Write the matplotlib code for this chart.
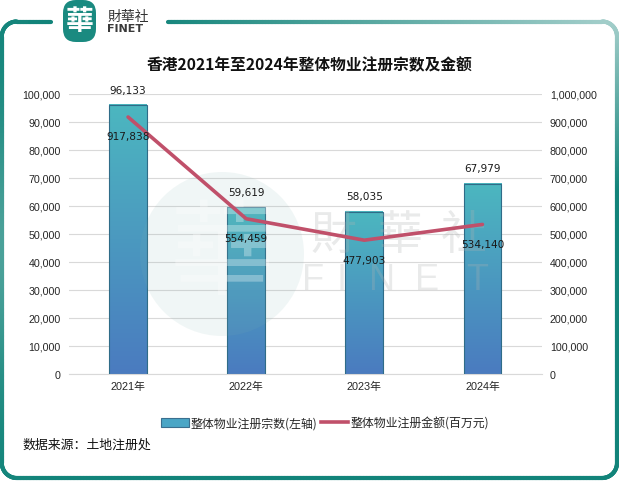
import numpy as np
import matplotlib
matplotlib.use('Agg')
import matplotlib.pyplot as plt
from matplotlib.patches import FancyBboxPatch, Rectangle, Circle
from matplotlib.colors import LinearSegmentedColormap, to_rgb
from matplotlib.collections import LineCollection
from matplotlib.ticker import FuncFormatter, MultipleLocator
from matplotlib.lines import Line2D

# ---------------- data ----------------
years = ['2021年', '2022年', '2023年', '2024年']
counts = [96133, 59619, 58035, 67979]            # 整体物业注册宗数 (left axis)
amounts = [917838, 554459, 477903, 534140]       # 整体物业注册金额 (百万元, right axis)
title = '香港2021年至2024年整体物业注册宗数及金额'
bar_name = '整体物业注册宗数(左轴)'
line_name = '整体物业注册金额(百万元)'
source = '数据来源：土地注册处'

W, H = 619, 502
plt.rcParams['font.family'] = ['Liberation Sans', 'Noto Sans CJK SC']
fig = plt.figure(figsize=(W / 100, H / 100), dpi=100)

# ---------------- background / frame ----------------
bg = fig.add_axes([0, 0, 1, 1], zorder=0)
bg.set_xlim(0, W); bg.set_ylim(H, 0); bg.axis('off')

L, R, T, B, rad = 1.8, 617.0, 22.5, 479.0, 15.0
pts = []
def arc(cx, cy, a0, a1, n=30):
    for a in np.linspace(a0, a1, n):
        pts.append((cx + rad * np.cos(np.radians(a)), cy + rad * np.sin(np.radians(a))))
def seg(p0, p1, n=200):
    for t in np.linspace(0, 1, n):
        pts.append((p0[0] + (p1[0] - p0[0]) * t, p0[1] + (p1[1] - p0[1]) * t))
seg((L + rad, T), (R - rad, T), 400)
arc(R - rad, T + rad, -90, 0)
seg((R, T + rad), (R, B - rad), 300)
arc(R - rad, B - rad, 0, 90)
seg((R - rad, B), (L + rad, B), 400)
arc(L + rad, B - rad, 90, 180)
seg((L, B - rad), (L, T + rad), 300)
arc(L + rad, T + rad, 180, 270)
pts = np.array(pts)
segs, cols = [], []
dark = np.array(to_rgb('#12847a'))
light = np.array(to_rgb('#b3d6d3'))
for i in range(len(pts) - 1):
    p0, p1 = pts[i], pts[i + 1]
    mx, my = (p0 + p1) / 2
    if my < T + 3 and 51 < mx < 168:
        continue
    tr = 0.92 * np.clip((mx - 150) / 467, 0, 1) * np.clip(1 - (my - 22) / 170, 0, 1)
    tl = 0.35 * np.exp(-((my - 250) / 130) ** 2) if mx < 30 else 0
    t = max(tr, tl)
    segs.append([p0, p1]); cols.append(dark * (1 - t) + light * t)
bg.add_collection(LineCollection(segs, colors=cols, linewidths=3.0, capstyle='round'))

# logo
bg.add_patch(FancyBboxPatch((63, 1), 33, 42, boxstyle='round,pad=0,rounding_size=13',
                            facecolor='#1a8a80', edgecolor='none'))
bg.text(79.5, 22, '華', color='white', fontsize=20, fontweight='bold',
        family='Noto Sans CJK TC', ha='center', va='center')
bg.text(107, 17, '財華社', color='#333333', fontsize=10, family='Noto Sans CJK TC',
        ha='left', va='center')
bg.text(107, 29, 'FINET', color='#3a3a3a', fontsize=8, fontweight='bold',
        family='DejaVu Sans', ha='left', va='center')

# ---------------- main axes ----------------
ax = fig.add_axes([69 / W, 1 - 375 / H, 472.5 / W, 280 / H], zorder=1)
ax.set_facecolor('none')
x = np.arange(len(years))
bw = 0.32
cmap = LinearSegmentedColormap.from_list('g', ['#4cb7bf', '#4a7bc0'])
grad = np.linspace(0, 1, 256).reshape(-1, 1)
bars = ax.bar(x, counts, width=bw, facecolor='none', edgecolor='#2f6c88', linewidth=0.8, zorder=3)
for b in bars:
    x0, w, h = b.get_x(), b.get_width(), b.get_height()
    ax.imshow(grad, extent=[x0, x0 + w, 0, h], aspect='auto', cmap=cmap, zorder=2,
              origin='upper', interpolation='bilinear')
ax.set_xlim(-0.5, len(years) - 0.5)
ax.set_ylim(0, 100000)
ax.yaxis.set_major_locator(MultipleLocator(10000))
ax.yaxis.set_major_formatter(FuncFormatter(lambda v, p: f'{v:,.0f}'))
ax.grid(axis='y', color='#d9d9d9', linewidth=0.8, zorder=0)
ax.set_axisbelow(True)
for s in ['left', 'right', 'top']:
    ax.spines[s].set_visible(False)
ax.spines['bottom'].set_color('#d9d9d9')
ax.spines['bottom'].set_linewidth(0.8)
ax.set_xticks(x)
ax.set_xticklabels(years)
ax.tick_params(axis='x', length=0, pad=5, labelsize=7.8, labelcolor='#262626')
ax.tick_params(axis='y', length=0, pad=6, labelsize=7.7, labelcolor='#262626')

ax2 = ax.twinx()
ax2.set_zorder(3)
ax2.set_facecolor('none')
ax2.plot(x, amounts, color='#c0506a', linewidth=2.6, solid_capstyle='round',
         solid_joinstyle='round')
ax2.set_ylim(0, 1000000)
ax2.yaxis.set_major_locator(MultipleLocator(100000))
ax2.yaxis.set_major_formatter(FuncFormatter(lambda v, p: f'{v:,.0f}'))
for s in ['left', 'right', 'top', 'bottom']:
    ax2.spines[s].set_visible(False)
ax2.tick_params(axis='y', length=0, pad=6, labelsize=7.7, labelcolor='#262626')
for xi, a in zip(x, amounts):
    ax2.annotate(f'{a:,}', (xi, a), xytext=(0, -14), textcoords='offset points',
                 ha='center', va='center', fontsize=7.6, family='DejaVu Sans', color='#1a1a1a')
# bar value labels (drawn on the top axes so the watermark never covers them)
for xi, c in zip(x, counts):
    ax2.annotate(f'{c:,}', (xi, c / 100000 * 1000000), xytext=(0, 11), textcoords='offset points',
                 ha='center', va='center', fontsize=7.6, family='DejaVu Sans', color='#1a1a1a')

# ---------------- watermark overlay ----------------
wm = fig.add_axes([0, 0, 1, 1], zorder=2)
wm.set_xlim(0, W); wm.set_ylim(H, 0); wm.axis('off'); wm.set_facecolor('none')
wm.add_patch(Circle((222, 255), 82, facecolor='#7fb3ae', alpha=0.11, edgecolor='none'))
wm.text(222, 258, '華', color='white', alpha=0.3, fontsize=75,
        family='Noto Sans CJK TC', ha='center', va='center')
gray = (175 / 255, 178 / 255, 178 / 255)
for ch, cx in zip('財華社', [333, 400, 464]):
    wm.text(cx, 236, ch, color=gray, alpha=0.27, fontsize=33,
            family='Noto Sans CJK TC', ha='center', va='center')
for ch, cx in zip('FINET', [313, 342, 382, 427, 477]):
    wm.text(cx, 281, ch, color=gray, alpha=0.27, fontsize=26,
            family='Liberation Sans', ha='center', va='center')

# ---------------- titles / legend / source ----------------
fig.text(310 / W, 1 - 65 / H, title, ha='center', va='center', fontsize=11.3,
         fontweight='bold', family='Noto Sans CJK SC', color='#111111')
handles = [Rectangle((0, 0), 1, 1, facecolor='#4aa6c6', edgecolor='#3a6f8f', linewidth=0.8),
           Line2D([0], [0], color='#c0506a', linewidth=2.6)]
fig.legend(handles, [bar_name, line_name], loc='center',
           bbox_to_anchor=(325 / W, 1 - 424 / H), ncol=2, frameon=False,
           prop={'family': 'Noto Sans CJK SC', 'size': 8.6}, handlelength=2.3,
           handletextpad=0.15, columnspacing=0.3, labelcolor='#262626')
fig.text(22 / W, 1 - 445 / H, source, ha='left', va='center', fontsize=9.3,
         family='Noto Sans CJK SC', color='#111111')

fig.savefig('out.png', dpi=100)
